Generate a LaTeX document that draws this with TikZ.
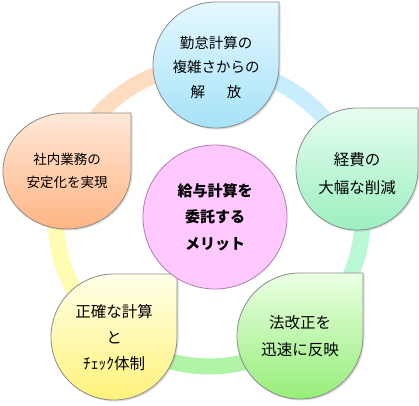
\documentclass[tikz,border=0pt]{standalone}
\usepackage{fontspec}
\setmainfont{Noto Sans CJK JP}
\usetikzlibrary{shadows,backgrounds}
\definecolor{petalLine}{HTML}{8A8A8A}
\definecolor{hubLine}{HTML}{B07AB0}
\definecolor{hubPink}{HTML}{FFC8FF}
\definecolor{ringPeach}{HTML}{FDDCC0}
\definecolor{ringBlue}{HTML}{C8EEFD}
\definecolor{ringMint}{HTML}{BAF7D4}
\definecolor{ringGreen}{HTML}{B0F4A6}
\definecolor{ringYellow}{HTML}{FFFBB0}
\definecolor{blueTop}{HTML}{E4F8FF}
\definecolor{blueBot}{HTML}{A6E2F8}
\definecolor{mintTop}{HTML}{E6FDF0}
\definecolor{mintBot}{HTML}{9CEFC0}
\definecolor{peachTop}{HTML}{FFE8D8}
\definecolor{peachBot}{HTML}{FFB583}
\definecolor{yellowTop}{HTML}{FFFFE8}
\definecolor{yellowBot}{HTML}{FFF27A}
\definecolor{greenTop}{HTML}{EAFFE4}
\definecolor{greenBot}{HTML}{96EE78}

\begin{document}
\begin{tikzpicture}[x=1pt,y=-1pt,
    petal/.style={draw=petalLine,line width=0.8pt,
      drop shadow={shadow xshift=1.5pt,shadow yshift=-1.5pt,opacity=0.25}},
    petaltext/.style={align=center,inner sep=0pt},
    ring/.style={line width=16pt,
      preaction={draw=black,opacity=0.1,transform canvas={xshift=1.5pt,yshift=-2pt}}},
    hub/.style={circle,draw=hubLine,line width=0.8pt,fill=hubPink,minimum size=144pt,
      align=center,font=\bfseries\fontsize{15}{26.5}\selectfont}]
    \useasboundingbox (0,0) rectangle (419,405);
    % petals
    \path[petal,top color=blueTop,bottom color=blueBot]
      (279,2) -- (279,65) arc[start angle=0,end angle=270,radius=63] -- cycle;
    \path[petal,top color=mintTop,bottom color=mintBot]
      (418,108) -- (418,169) arc[start angle=0,end angle=270,radius=61] -- cycle;
    \path[petal,top color=peachTop,bottom color=peachBot]
      (131,113) -- (131,171) arc[start angle=0,end angle=270,x radius=64,y radius=58] -- cycle;
    \path[petal,top color=yellowTop,bottom color=yellowBot]
      (177,274) -- (177,337) arc[start angle=0,end angle=270,radius=63] -- cycle;
    \path[petal,top color=greenTop,bottom color=greenBot]
      (363,273) -- (363,336) arc[start angle=0,end angle=270,radius=63] -- cycle;
    \node[petaltext,font=\fontsize{14.5}{24.5}\selectfont] (kintai) at (216,67)
      {勤怠計算の\\複雑さからの\\解\hspace{1.5em}放};
    \node[petaltext,font=\fontsize{15.5}{28}\selectfont] (keihi) at (357,174)
      {経費の\\大幅な削減};
    \node[petaltext,font=\fontsize{15.5}{27}\selectfont] (houkai) at (300,336)
      {法改正を\\迅速に反映};
    \node[petaltext,font=\fontsize{15.5}{26}\selectfont] (seikaku) at (114,338)
      {正確な計算\\と\\ﾁｪｯｸ体制};
    \node[petaltext,font=\fontsize{13.5}{22.5}\selectfont] (shanai) at (67,171)
      {社内業務の\\安定化を実現};
    \node[hub] (merit) at (215,217) {給与計算を\\委託する\\メリット};
    % ring behind
    \begin{scope}[on background layer]
      \draw[ring,ringBlue] (kintai.center) arc[start angle=-88,end angle=-16,radius=151];
      \draw[ring,ringMint] (keihi.center) arc[start angle=-16,end angle=53,radius=151];
      \draw[ring,ringGreen] (houkai.center) arc[start angle=53,end angle=128,radius=151];
      \draw[ring,ringYellow] (seikaku.center) arc[start angle=128,end angle=197,radius=151];
      \draw[ring,ringPeach] (shanai.center) arc[start angle=197,end angle=272,radius=151];
    \end{scope}
  \end{tikzpicture}
\end{document}
